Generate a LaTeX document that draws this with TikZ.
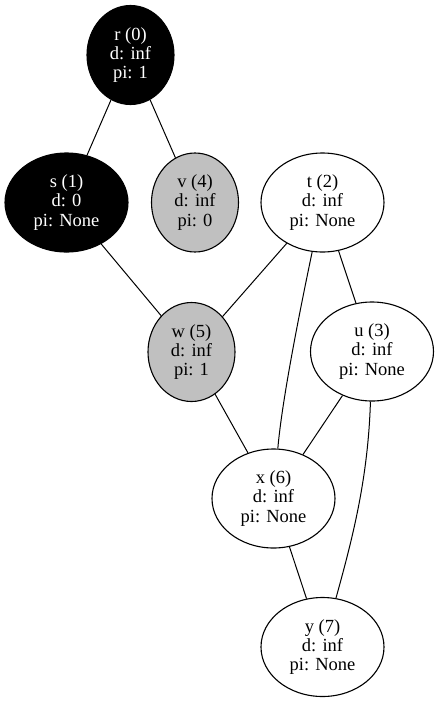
\documentclass[tikz,border=0pt]{standalone}
\usepackage{fontspec}
\setmainfont{Liberation Serif}
\usetikzlibrary{shapes.geometric}
\tikzset{
  vtx/.style={ellipse, draw=black, line width=1.1pt, inner sep=0pt, align=center,
    minimum height=99pt, font=\fontsize{18.5}{19.3}\selectfont},
  narrow/.style={minimum width=87pt},
  wide/.style={minimum width=123pt},
  blackv/.style={fill=black, text=white},
  grayv/.style={fill=graynode},
  whitev/.style={fill=white},
  edge/.style={draw=black, line width=1pt}
}
\definecolor{graynode}{RGB}{192,192,192}
\begin{document}
\begin{tikzpicture}[x=1pt,y=-1pt]
\useasboundingbox (0,0) rectangle (439,702);
\node[vtx,narrow,blackv] (r) at (130.5,55) {r (0)\\d: inf\\pi: 1};
\node[vtx,wide,blackv] (s) at (66.5,202.5) {s (1)\\d: 0\\pi: None};
\node[vtx,narrow,grayv] (v) at (195,202.5) {v (4)\\d: inf\\pi: 0};
\node[vtx,wide,whitev] (t) at (322.5,202.5) {t (2)\\d: inf\\pi: None};
\node[vtx,narrow,grayv] (w) at (191.5,352) {w (5)\\d: inf\\pi: 1};
\node[vtx,wide,whitev] (u) at (372,351.5) {u (3)\\d: inf\\pi: None};
\node[vtx,wide,whitev] (x) at (273.5,498.5) {x (6)\\d: inf\\pi: None};
\node[vtx,wide,whitev] (y) at (322.5,647) {y (7)\\d: inf\\pi: None};
\coordinate (c1) at (300,310);
\coordinate (c2) at (282,400);
\coordinate (c3) at (368,480);
\coordinate (c4) at (352,540);
\draw[edge] (r) -- (s);
\draw[edge] (r) -- (v);
\draw[edge] (s) -- (w);
\draw[edge] (t) -- (w);
\draw[edge] (t) -- (u);
\draw[edge] (t) .. controls (c1) and (c2) .. (x);
\draw[edge] (w) -- (x);
\draw[edge] (u) -- (x);
\draw[edge] (u) .. controls (c3) and (c4) .. (y);
\draw[edge] (x) -- (y);
\end{tikzpicture}
\end{document}
